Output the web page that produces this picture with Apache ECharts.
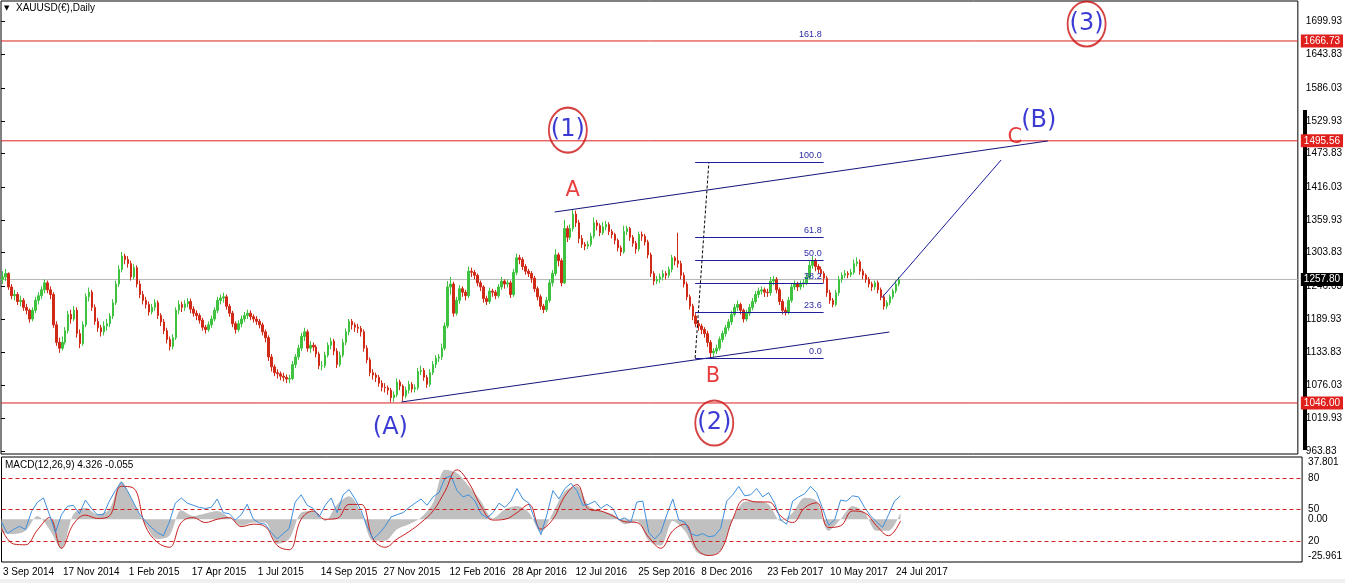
<!DOCTYPE html>
<html><head><meta charset="utf-8">
<script src="https://cdn.jsdelivr.net/npm/echarts@6/dist/echarts.min.js"></script>
<style>html,body{margin:0;padding:0;background:#fff}#c{width:1345px;height:583px}</style>
</head><body><div id="c"></div>
<script>
// ---------- data ----------
const dateLabels = ['3 Sep 2014','17 Nov 2014','1 Feb 2015','17 Apr 2015','1 Jul 2015','14 Sep 2015','27 Nov 2015','12 Feb 2016','28 Apr 2016','12 Jul 2016','25 Sep 2016','8 Dec 2016','23 Feb 2017','10 May 2017','24 Jul 2017'];
const dateLabelSlots = [0,20,42,63,85,106,127,149,170,191,212,233,255,276,298];
const totalSlots = 434;
// [open, close, low, high], one candle per slot
const candles = [
[1258,1262,1250,1272],[1262,1268,1255,1276],[1268,1245,1240,1270],[1245,1230,1224,1250],[1230,1232,1222,1240],[1232,1220,1214,1236],[1220,1222,1212,1230],[1222,1210,1204,1226],[1210,1205,1198,1216],[1205,1190,1184,1208],
[1190,1205,1186,1210],[1205,1222,1200,1228],[1222,1230,1215,1236],[1230,1240,1224,1246],[1240,1252,1234,1258],[1252,1240,1234,1256],[1240,1232,1224,1246],[1232,1180,1175,1236],[1180,1150,1144,1186],[1150,1140,1132,1158],
[1140,1150,1136,1160],[1150,1170,1146,1176],[1170,1198,1165,1204],[1198,1190,1182,1206],[1190,1205,1186,1212],[1205,1165,1158,1210],[1165,1148,1140,1172],[1148,1180,1144,1186],[1180,1228,1176,1234],[1228,1236,1220,1244],
[1236,1210,1204,1240],[1210,1186,1180,1215],[1186,1175,1168,1192],[1175,1168,1160,1180],[1168,1178,1162,1186],[1178,1182,1170,1190],[1182,1195,1176,1200],[1195,1218,1190,1224],[1218,1250,1214,1256],[1250,1275,1245,1282],
[1275,1298,1270,1305],[1298,1292,1284,1302],[1292,1285,1278,1298],[1285,1262,1256,1290],[1262,1278,1258,1284],[1278,1250,1244,1282],[1250,1232,1226,1256],[1232,1222,1215,1238],[1222,1215,1208,1228],[1215,1202,1196,1220],
[1202,1210,1198,1216],[1210,1218,1204,1224],[1218,1196,1190,1222],[1196,1185,1178,1200],[1185,1170,1164,1190],[1170,1155,1148,1175],[1155,1143,1136,1160],[1143,1158,1138,1164],[1158,1205,1154,1210],[1205,1215,1198,1222],
[1215,1210,1202,1220],[1210,1216,1204,1222],[1216,1220,1210,1226],[1220,1207,1200,1225],[1207,1200,1194,1212],[1200,1196,1188,1205],[1196,1188,1182,1200],[1188,1176,1170,1192],[1176,1172,1165,1180],[1172,1180,1168,1186],
[1180,1190,1175,1196],[1190,1205,1186,1210],[1205,1222,1200,1228],[1222,1226,1215,1232],[1226,1228,1218,1235],[1228,1212,1206,1232],[1212,1200,1194,1216],[1200,1182,1176,1204],[1182,1172,1165,1186],[1172,1182,1168,1188],
[1182,1190,1176,1196],[1190,1196,1185,1202],[1196,1200,1190,1206],[1200,1194,1188,1205],[1194,1190,1184,1198],[1190,1186,1180,1195],[1186,1180,1174,1190],[1180,1168,1162,1184],[1168,1158,1150,1172],[1158,1125,1118,1162],
[1125,1108,1100,1130],[1108,1098,1092,1112],[1098,1096,1088,1104],[1096,1092,1085,1100],[1092,1090,1083,1098],[1090,1087,1080,1095],[1087,1088,1080,1094],[1088,1112,1085,1118],[1112,1125,1106,1130],[1125,1140,1120,1146],
[1140,1160,1135,1166],[1160,1168,1152,1175],[1168,1140,1134,1172],[1140,1145,1132,1152],[1145,1142,1135,1150],[1142,1130,1124,1146],[1130,1110,1104,1134],[1110,1110,1102,1118],[1110,1128,1106,1134],[1128,1145,1124,1150],
[1145,1152,1138,1158],[1152,1135,1128,1156],[1135,1112,1106,1140],[1112,1128,1108,1134],[1128,1150,1124,1156],[1150,1168,1145,1174],[1168,1186,1162,1190],[1186,1180,1172,1190],[1180,1176,1168,1184],[1176,1174,1166,1182],
[1174,1168,1160,1178],[1168,1140,1134,1172],[1140,1120,1114,1145],[1120,1098,1092,1124],[1098,1094,1086,1104],[1094,1090,1082,1098],[1090,1080,1074,1094],[1080,1073,1066,1085],[1073,1072,1064,1080],[1072,1068,1060,1076],
[1068,1055,1047,1072],[1055,1060,1048,1066],[1060,1082,1056,1088],[1082,1075,1068,1086],[1075,1058,1049,1078],[1058,1068,1054,1074],[1068,1078,1062,1084],[1078,1070,1064,1082],[1070,1072,1064,1078],[1072,1100,1068,1106],
[1100,1102,1094,1110],[1102,1090,1084,1106],[1090,1078,1072,1094],[1078,1098,1074,1104],[1098,1112,1094,1118],[1112,1123,1106,1128],[1123,1125,1116,1130],[1125,1140,1120,1148],[1140,1178,1136,1184],[1178,1245,1174,1255],
[1245,1250,1232,1262],[1250,1200,1194,1254],[1200,1222,1196,1228],[1222,1242,1216,1248],[1242,1236,1228,1246],[1236,1230,1222,1240],[1230,1272,1226,1280],[1272,1270,1262,1278],[1270,1265,1258,1274],[1265,1252,1246,1268],
[1252,1245,1238,1256],[1245,1225,1218,1248],[1225,1220,1214,1230],[1220,1238,1216,1244],[1238,1236,1228,1242],[1236,1230,1224,1240],[1230,1245,1226,1250],[1245,1255,1240,1262],[1255,1250,1242,1258],[1250,1252,1244,1258],
[1252,1232,1226,1256],[1232,1270,1228,1276],[1270,1295,1265,1302],[1295,1292,1284,1300],[1292,1280,1274,1296],[1280,1272,1266,1284],[1272,1268,1262,1276],[1268,1260,1252,1272],[1260,1242,1236,1264],[1242,1228,1222,1246],
[1228,1212,1206,1232],[1212,1206,1200,1216],[1206,1222,1202,1228],[1222,1252,1218,1258],[1252,1268,1246,1274],[1268,1300,1264,1310],[1300,1290,1280,1304],[1290,1252,1246,1294],[1252,1345,1250,1360],[1345,1330,1322,1350],
[1330,1345,1326,1352],[1345,1370,1340,1378],[1370,1355,1348,1376],[1355,1328,1320,1360],[1328,1318,1312,1334],[1318,1315,1308,1322],[1315,1318,1310,1324],[1318,1332,1314,1338],[1332,1355,1328,1364],[1355,1350,1342,1360],
[1350,1338,1332,1354],[1338,1348,1334,1356],[1348,1352,1342,1358],[1352,1340,1334,1356],[1340,1335,1328,1344],[1335,1325,1318,1338],[1325,1312,1306,1328],[1312,1305,1298,1316],[1305,1340,1302,1350],[1340,1345,1334,1350],
[1345,1330,1324,1348],[1330,1320,1314,1334],[1320,1310,1302,1324],[1310,1335,1306,1340],[1335,1332,1324,1340],[1332,1322,1316,1336],[1322,1300,1294,1326],[1300,1268,1262,1304],[1268,1255,1248,1272],[1255,1258,1250,1264],
[1258,1262,1252,1268],[1262,1268,1256,1274],[1268,1265,1258,1272],[1265,1275,1260,1280],[1275,1295,1270,1300],[1295,1290,1282,1298],[1290,1285,1278,1338],[1285,1265,1258,1290],[1265,1250,1244,1270],[1250,1228,1222,1254],
[1228,1212,1206,1232],[1212,1195,1188,1216],[1195,1182,1176,1200],[1182,1178,1170,1188],[1178,1172,1164,1182],[1172,1165,1158,1176],[1165,1150,1142,1170],[1150,1132,1124,1154],[1132,1135,1125,1140],[1135,1140,1130,1146],
[1140,1155,1136,1160],[1155,1165,1150,1170],[1165,1175,1160,1180],[1175,1185,1170,1190],[1185,1198,1180,1204],[1198,1210,1194,1216],[1210,1215,1204,1222],[1215,1205,1198,1218],[1205,1190,1184,1208],[1190,1200,1186,1206],
[1200,1210,1195,1216],[1210,1220,1205,1226],[1220,1232,1216,1238],[1232,1238,1226,1244],[1238,1240,1232,1246],[1240,1236,1228,1244],[1236,1235,1228,1242],[1235,1255,1230,1262],[1255,1258,1248,1264],[1258,1240,1234,1262],
[1240,1220,1214,1244],[1220,1205,1198,1224],[1205,1202,1196,1210],[1202,1222,1198,1228],[1222,1245,1218,1250],[1245,1250,1240,1256],[1250,1245,1238,1254],[1245,1250,1240,1256],[1250,1252,1244,1258],[1252,1262,1248,1268],
[1262,1282,1258,1290],[1282,1290,1276,1298],[1290,1280,1272,1294],[1280,1275,1268,1284],[1275,1268,1262,1280],[1268,1260,1252,1272],[1260,1235,1228,1264],[1235,1222,1216,1240],[1222,1215,1210,1226],[1215,1235,1212,1240],
[1235,1258,1230,1264],[1258,1265,1252,1270],[1265,1268,1260,1274],[1268,1266,1260,1272],[1266,1270,1262,1276],[1270,1285,1266,1292],[1285,1288,1280,1296],[1288,1272,1266,1292],[1272,1265,1258,1276],[1265,1258,1252,1268],
[1258,1250,1244,1262],[1250,1245,1238,1254],[1245,1252,1240,1256],[1252,1240,1234,1256],[1240,1228,1222,1244],[1228,1212,1206,1232],[1212,1218,1207,1222],[1218,1228,1214,1232],[1228,1238,1224,1242],[1238,1250,1234,1256],
[1250,1257.8,1246,1262]
];
const priceTicks = [963.83,1019.93,1076.03,1133.83,1189.93,1246.03,1303.83,1359.93,1416.03,1473.83,1529.93,1586.03,1643.83,1699.93];
const levelLines = [1666.73,1495.56,1046.00];
const lastPrice = 1257.80;
// stochastic-like blue line, one value every 2 slots
const stoch = [38,27,31,34,31,48,57,61,45,28,45,53,54,46,59,51,45,45,58,68,76,68,57,46,39,33,28,25,38,56,61,56,54,52,51,52,60,47,46,40,45,55,41,37,36,28,22,27,32,57,64,54,51,43,54,61,47,64,69,60,49,34,22,27,34,43,45,47,52,56,60,54,62,66,80,82,68,62,64,58,46,42,47,56,52,58,70,60,56,40,26,45,68,60,70,75,68,54,55,58,51,55,51,40,42,38,57,58,28,22,28,45,60,40,38,27,25,27,24,25,32,58,64,72,63,64,70,62,66,56,40,36,58,62,65,72,66,51,35,40,59,58,63,62,52,44,38,33,45,58,63];
// MACD main (grey) and signal (red), one value every 4 slots
const macdMain = [-8,-9,-7,2,-6,-18,3,7,3,6,23,10,-3,-12,-10,5.5,2,3.5,5,1,-4,-2,-2,-15,-12,4,5,-1,9,14,4,-13,-13,-6,-3,1,10,30,28,20,11,0.5,6,8,4,-8,4,17,20,8,5,3,-3,-1,-13,-16,-1,-7,-20,-22,-19,0,10.7,11,9,-1,4,13,11,-7,0,8,4,-7,-7,4];
const macdSignal = [-5.5,-15,-15.5,-6.5,1,-17.6,-3,2.5,0.5,2,20,19,-4,-14,-17,-2,1,-2,0,1,-4.5,-3,-4.5,-16,-18.5,0,5,0,0.5,9,9,-12,-17,-12,-7.5,-2,5,17,30,22,8,-0.5,0,4,9,-6,0,14,21,6,5,2,-1.5,-2,-11,-17.6,-7,-3,-18,-22,-19,0,12,10.5,10.5,2,-2,7,10,-5,-4,5,4,-4,-10,-1];
const stochLevels = [80,50,20];
const macdTicks = [37.801,0,-25.961];
// Fibonacci retracement
const fibLow = 1123, fibHigh = 1459;
const fibLevels = [0,23.6,38.2,50,61.8,100,161.8];
const fibSpan = [232.3,275.3];
const fibDashed = [[232.3,1123],[236.9,1459]];
// trend lines (slot, price)
const upperChannel = [[185.3,1373.5],[350.3,1495.3]];
const lowerChannel = [[134,1047.7],[297.3,1167.7]];
const projection = [[294.7,1226],[334.7,1462.7]];
// wave labels (text, slot, price)
const circledLabels = [['(1)',189.7,1514],['(2)',238.7,1011.7],['(3)',363.3,1695.9]];
const blueLabels = [['(A)',130.3,1003],['(B)',347.3,1529.5]];
const redLabels = [['A',191.3,1411],['B',238.3,1092],['C',339.3,1502]];

// ---------- chart ----------
const slots = [];
for (let i = 0; i < totalSlots; i++) slots.push('');
dateLabelSlots.forEach((s, k) => { slots[s] = dateLabels[k]; });

const FONT = 'Liberation Sans';
const WAVEFONT = 'DejaVu Sans';
const NONE = 'rgba(0,0,0,0)';
const chart = echarts.init(document.getElementById('c'));
const ellipse = 'path://M0,50A50,50,0,1,1,100,50A50,50,0,1,1,0,50Z';
const lineSeries = (d, color, extra) => Object.assign({type:'line', xAxisIndex:1, yAxisIndex:0, data:d, symbol:'none', silent:true,
  lineStyle:{color:color, width:1}, itemStyle:{color:color}, z:4}, extra || {});
const labelSeries = (arr, size, color) => ({type:'scatter', xAxisIndex:1, yAxisIndex:0, silent:true, symbolSize:1,
  itemStyle:{color:'transparent'}, z:6,
  data: arr.map(a => ({name:a[0], value:[a[1], a[2]]})),
  label:{show:true, position:'inside', formatter:'{b}', fontFamily:WAVEFONT, fontSize:size, color:color}});
const priceTag = (bg) => ({show:true, position:'end', distance:3, formatter:p => p.value.toFixed(2), color:'#fff',
  backgroundColor:bg, fontSize:10, padding:[2,3,1,3], fontFamily:FONT});
// horizontal level lines spanning the whole plot, drawn through the hidden slot axis
const hLine = (v, color) => lineSeries([[0, v], [totalSlots, v]], color, {z:2});

chart.setOption({
  animation:false,
  backgroundColor:'#fff',
  textStyle:{fontFamily:FONT},
  grid:[
    {left:1, top:1, width:1302, height:453, show:true, borderColor:'#000', borderWidth:1},
    {left:1, top:457, width:1302, height:105, show:true, borderColor:'#000', borderWidth:1}
  ],
  xAxis:[
    {type:'category', gridIndex:0, data:slots, boundaryGap:true, axisLine:{show:false}, axisTick:{show:false}, axisLabel:{show:false}, splitLine:{show:false}},
    {type:'value', gridIndex:0, min:0, max:totalSlots, show:false},
    {type:'category', gridIndex:1, data:slots, boundaryGap:true, axisLine:{show:false}, axisTick:{show:false}, splitLine:{show:false},
      axisLabel:{interval:(i, v) => v !== '', align:'left', fontSize:10, color:'#000', margin:5, fontFamily:FONT}},
    {type:'value', gridIndex:1, min:0, max:totalSlots, show:false}
  ],
  yAxis:[
    {type:'value', gridIndex:0, position:'right', min:958.55, max:1735.3, splitLine:{show:false},
      axisLine:{show:false},
      axisTick:{show:true, length:4, customValues:priceTicks, lineStyle:{color:'#000'}},
      axisLabel:{customValues:priceTicks, formatter:v => v.toFixed(2), fontSize:10, color:'#000', margin:8, fontFamily:FONT}},
    {type:'value', gridIndex:1, position:'right', min:0, max:100, splitLine:{show:false}, axisLine:{show:false},
      axisTick:{show:true, length:3, customValues:stochLevels, lineStyle:{color:'#000'}},
      axisLabel:{customValues:stochLevels, fontSize:10, color:'#000', margin:6, fontFamily:FONT}},
    {type:'value', gridIndex:1, position:'right', min:-25.961, max:37.801, splitLine:{show:false}, axisLine:{show:false},
      axisTick:{show:false},
      axisLabel:{customValues:macdTicks, fontSize:10, color:'#000', margin:6, fontFamily:FONT,
        formatter:v => v > 30 ? '{t|37.801}' : (v < -20 ? '{b|-25.961}' : '0.00'),
        rich:{t:{padding:[11,0,0,0], fontSize:10, color:'#000', fontFamily:FONT}, b:{padding:[0,0,11,0], fontSize:10, color:'#000', fontFamily:FONT}}}}
  ],
  graphic:[
    {type:'rect', shape:{x:1303, y:110, width:4, height:340}, style:{fill:'#000'}, z:0},
    {type:'rect', shape:{x:0, y:579, width:1345, height:4}, style:{fill:'#f0f0f0'}, z:0},
    {type:'text', x:4, y:5, style:{text:'\u25BC', fontSize:7, fill:'#000', fontFamily:'DejaVu Sans'}, z:10},
    {type:'text', x:16, y:3, style:{text:'XAUUSD(\u20AC),Daily', fontSize:10, fill:'#000', fontFamily:FONT}, z:10},
    {type:'text', x:5, y:460, style:{text:'MACD(12,26,9) 4.326 -0.055', fontSize:10, fill:'#000', fontFamily:FONT}, z:10}
  ],
  series:[
    hLine(lastPrice, '#b8b8b8'),
    ...levelLines.map(v => hLine(v, '#dd1f1f')),
    {type:'candlestick', xAxisIndex:0, yAxisIndex:0, data:candles, barWidth:2, silent:true, z:3,
      itemStyle:{color:'#3fc23f', color0:'#d02a16', borderColor:'#3fc23f', borderColor0:'#d02a16', borderWidth:1}},
    lineSeries(upperChannel, '#14147a', {
      markLine:{silent:true, symbol:'none', animation:false, z:8,
        lineStyle:{color:NONE, width:0},
        label:priceTag('#000'),
        data:[{yAxis:lastPrice}]}}),
    lineSeries(lowerChannel, '#14147a', {
      markLine:{silent:true, symbol:'none', animation:false, z:8,
        lineStyle:{color:NONE, width:0},
        label:priceTag('#e0201c'),
        data: levelLines.map(v => ({yAxis:v}))}}),
    lineSeries(projection, '#1a1a9a'),
    {type:'line', xAxisIndex:1, yAxisIndex:0, data:fibDashed, symbol:'none', silent:true, z:4,
      lineStyle:{color:'#000', width:1, type:[3,2]},
      markLine:{silent:true, symbol:'none', animation:false,
        lineStyle:{color:'#1f1f9a', width:1, type:'solid'},
        label:{show:true, position:'insideEndTop', formatter:'{b}', color:'#2b2ba6', fontSize:9, fontFamily:FONT, distance:2},
        data: fibLevels.map(l => {
          const p = fibLow + (fibHigh - fibLow) * l / 100;
          return [{name:l.toFixed(1), coord:[fibSpan[0], p], lineStyle:{color: l > 100 ? NONE : '#1f1f9a'}}, {coord:[fibSpan[1], p]}];
        })}},
    {type:'scatter', xAxisIndex:1, yAxisIndex:0, silent:true, z:5, symbol:ellipse, symbolSize:[38,45],
      itemStyle:{color:'transparent', borderColor:'#cc1414', borderWidth:2},
      data: circledLabels.map(a => [a[1], a[2]])},
    labelSeries(circledLabels, 24, '#0a0ac8'),
    labelSeries(blueLabels, 24, '#0a0ac8'),
    labelSeries(redLabels, 21, '#e00c0c'),
    {type:'line', xAxisIndex:3, yAxisIndex:2, data:macdMain.map((v, k) => [4 * k, v]), symbol:'none', smooth:0.3, silent:true,
      lineStyle:{width:0}, areaStyle:{color:'#c0c0c0', opacity:1}, z:2},
    {type:'line', xAxisIndex:3, yAxisIndex:2, data:macdSignal.map((v, k) => [4 * k, v]), symbol:'none', smooth:0.4, silent:true,
      lineStyle:{color:'#c81e1e', width:1}, z:3},
    {type:'line', xAxisIndex:3, yAxisIndex:1, data:stoch.map((v, k) => [2 * k, v]), symbol:'none', silent:true,
      lineStyle:{color:'#3d8fdc', width:1}, z:4,
      markLine:{silent:true, symbol:'none', animation:false, label:{show:false},
        lineStyle:{color:'#d02020', width:1, type:[4,3]},
        data: stochLevels.map(v => ({yAxis:v}))}}
  ]
});
</script></body></html>
